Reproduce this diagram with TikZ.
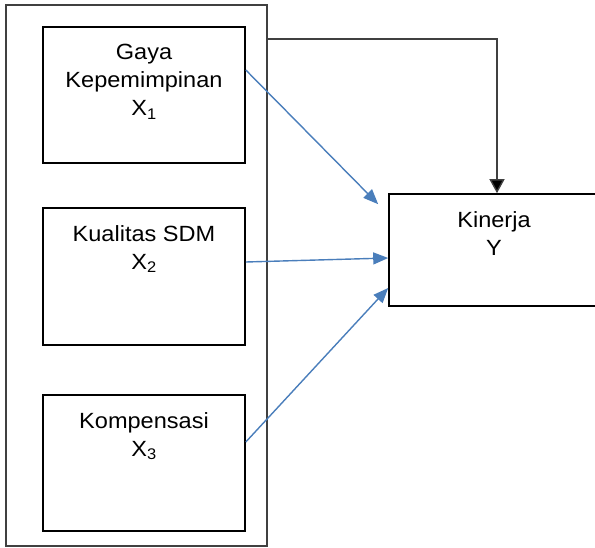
\documentclass[tikz,border=0pt]{standalone}
\usepackage{fontspec}
\setmainfont{Liberation Sans}[FakeStretch=1.07]
\usetikzlibrary{arrows.meta}
\definecolor{linkblue}{RGB}{74,126,187}
\definecolor{framegray}{RGB}{64,64,64}

\begin{document}
\begin{tikzpicture}[x=1pt,y=-1pt,
    box/.style={draw, line width=1.6pt, minimum width=202pt, minimum height=136pt, inner sep=0pt},
    lbl/.style={anchor=north, inner sep=0pt, align=center, font=\fontsize{22}{28}\selectfont},
    toY/.style={draw=linkblue, line width=1.4pt, -{Triangle[length=15pt,width=12pt]}}]
  \clip (0,0) rectangle (595,548);
  % outer frame round the three predictors
  \node (grp) at (136.5,275.5) [draw=framegray, line width=1.4pt, minimum width=261pt, minimum height=541pt, inner sep=0pt] {};
  \node (x1) at (144,95) [box] {};
  \node (x2) at (144,276.5) [box, minimum height=137pt] {};
  \node (x3) at (144,463) [box] {};
  \node (kin) at (494,250) [box, minimum width=210pt, minimum height=112pt] {};

  \node (t1) at ([yshift=-18pt]x1.north) [lbl] {Gaya\\Kepemimpinan\\X\textsubscript{1}};
  \node (t2) at ([yshift=-18pt]x2.north) [lbl] {Kualitas SDM\\X\textsubscript{2}};
  \node (t3) at ([yshift=-18pt]x3.north) [lbl] {Kompensasi\\X\textsubscript{3}};
  \node (ty) at ([yshift=-18pt]kin.north) [lbl] {Kinerja\\Y};

  % joint effect: frame to Y
  \coordinate (bend) at (497,39);
  \draw[framegray, line width=1.4pt, -{Triangle[length=14pt,width=15pt,fill=black]}] (grp.east |- bend) -- (bend) -- (bend |- kin.north);

  % partial effects
  \draw[toY] ([yshift=25pt]x1.east) -- ([xshift=-10pt,yshift=-11pt]kin.north west);
  \draw[toY] ([yshift=14.5pt]x2.east) -- ([yshift=-8pt]kin.west);
  \draw[toY] ([yshift=21pt]x3.east) -- ([yshift=-38pt]kin.west);
\end{tikzpicture}
\end{document}
